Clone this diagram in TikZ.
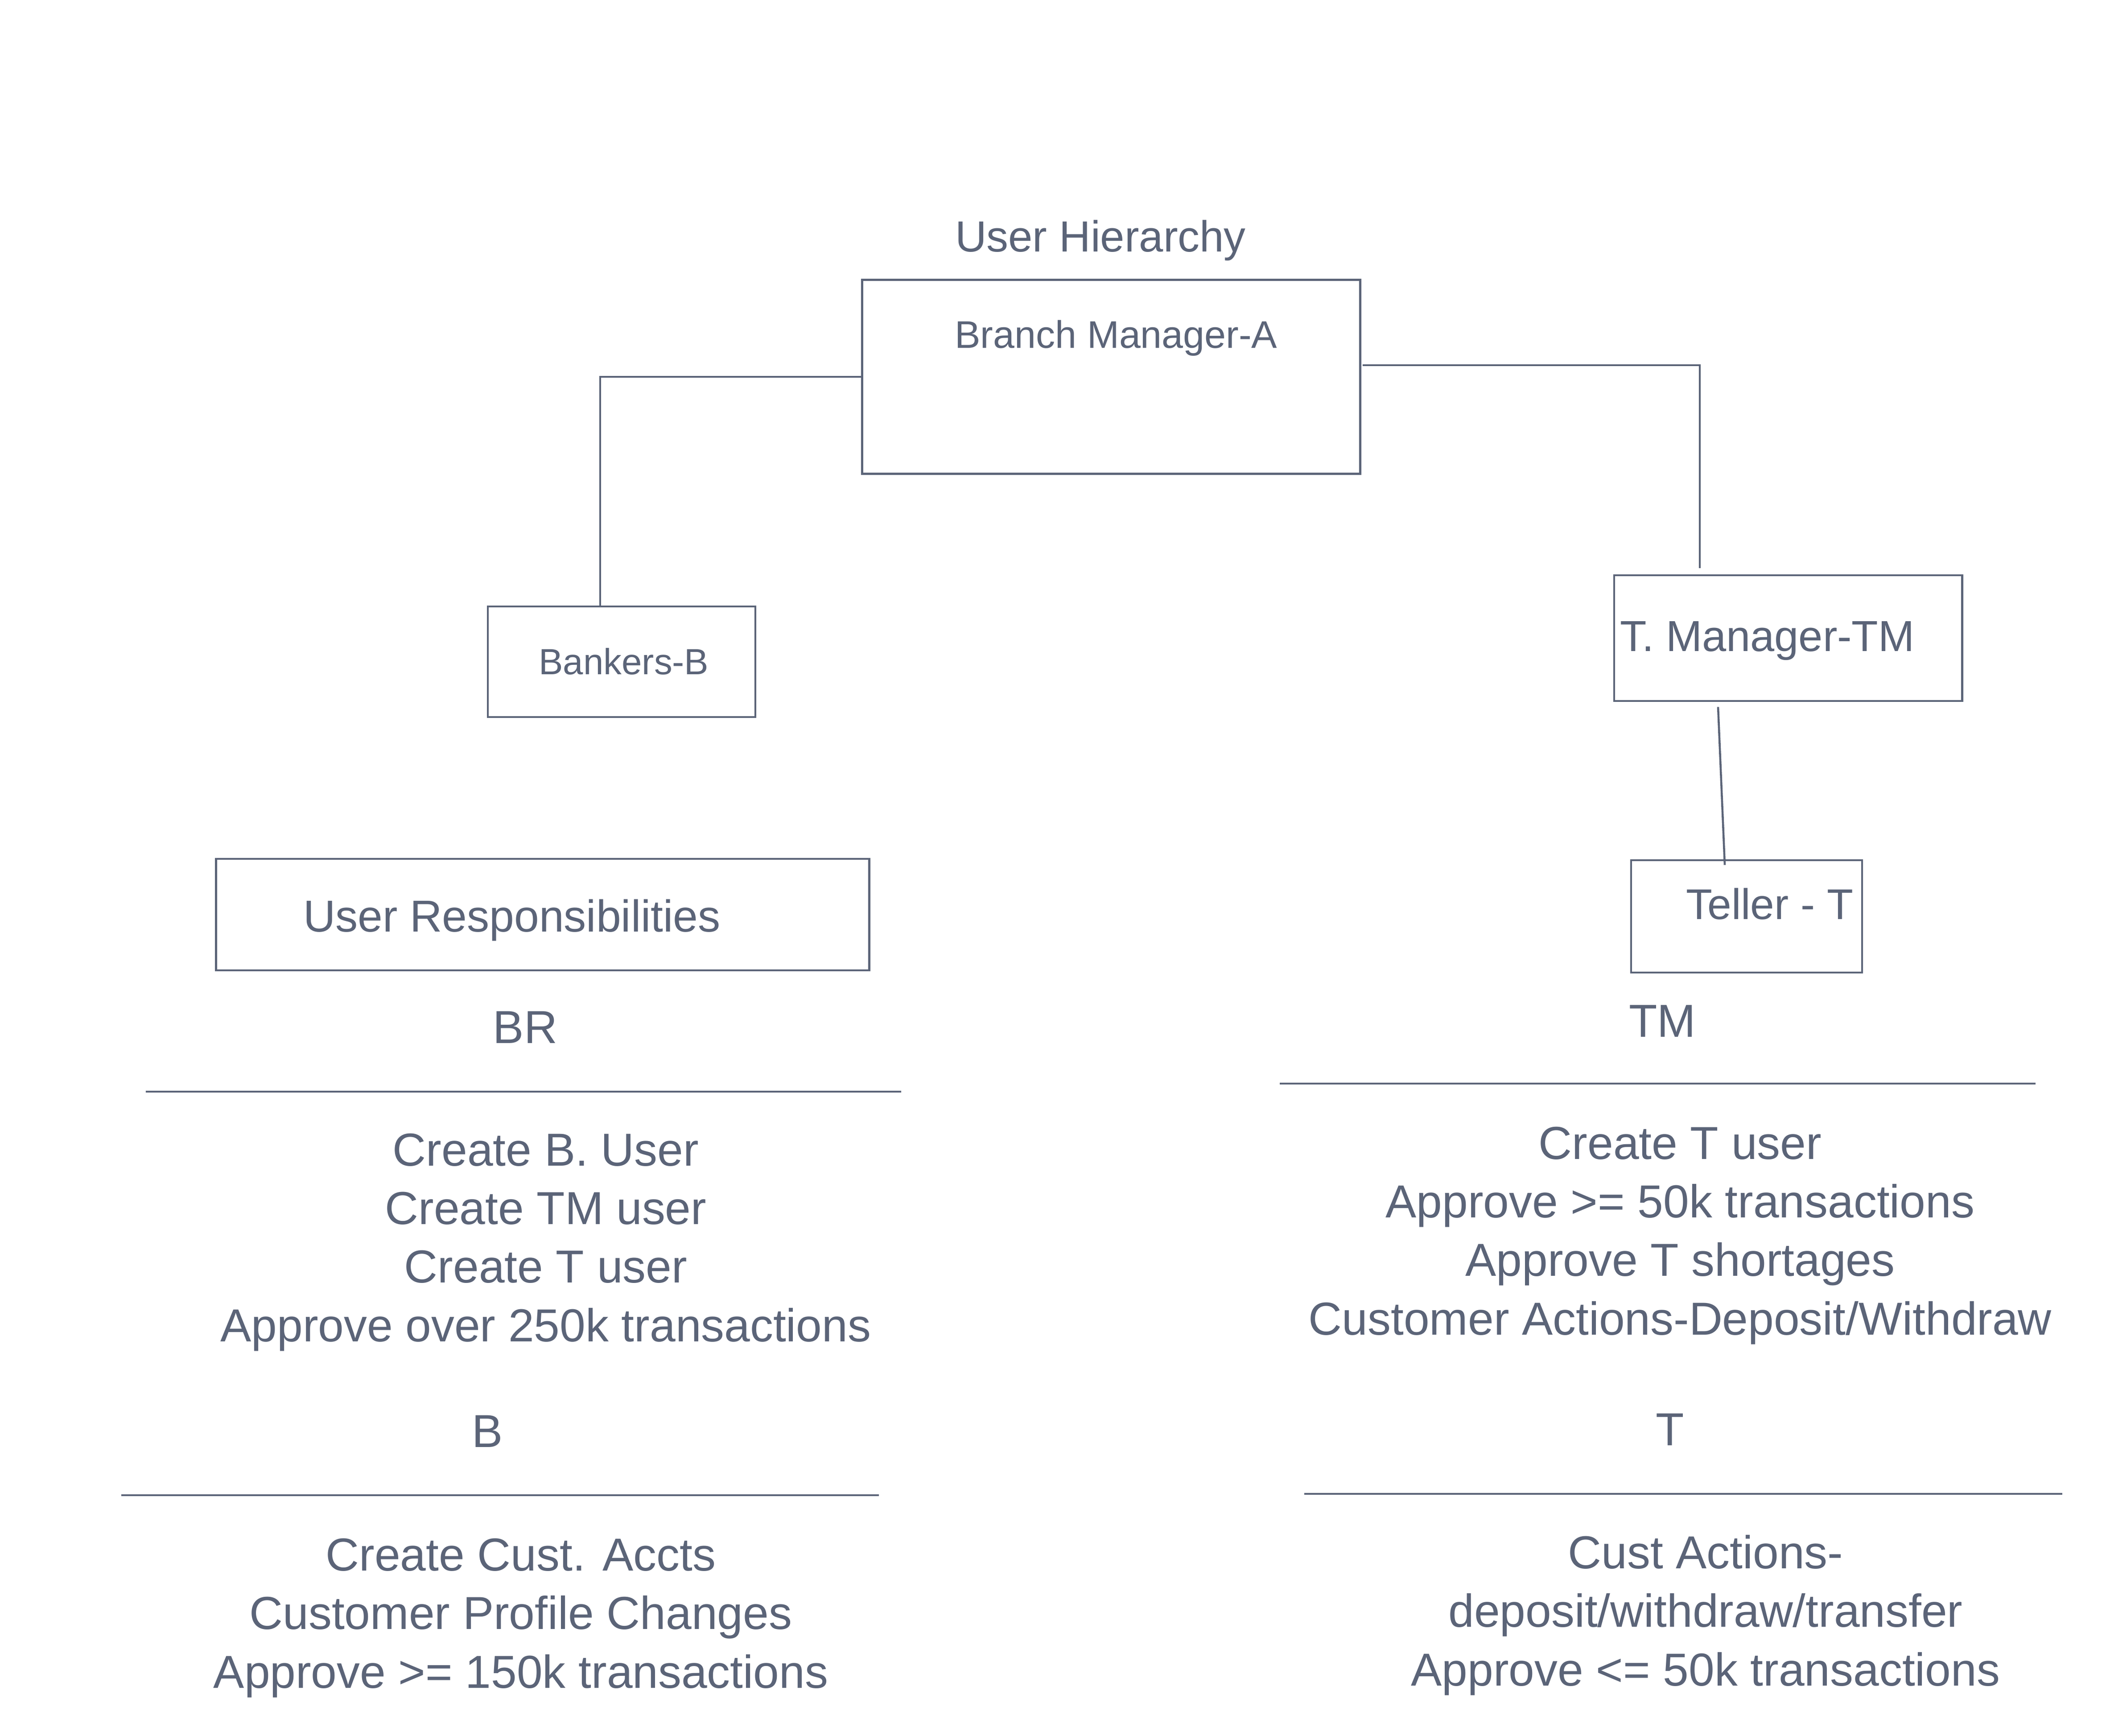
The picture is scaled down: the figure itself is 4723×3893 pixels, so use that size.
\documentclass[tikz,border=0pt]{standalone}
\usepackage{fontspec}
\setmainfont{Liberation Sans}
\usepackage{tikz}
\usetikzlibrary{calc}
\usetikzlibrary{positioning}
\definecolor{slate}{HTML}{5B6478}

\begin{document}
\begin{tikzpicture}[x=0.01cm,y=-0.01cm,line width=1.3pt]
  \tikzstyle{box}=[draw=slate,line width=1.3pt,inner sep=0pt]
  \tikzstyle{txt}=[inner sep=0pt,anchor=base,text=slate,font=\fontsize{29.5}{37.3}\selectfont]
  \tikzstyle{list}=[txt,align=center]
  \tikzstyle{link}=[draw=slate,line width=1.3pt]

  \useasboundingbox (0,0) rectangle (4723,3893);

  % hierarchy
  \node[txt,font=\fontsize{27.8}{33}\selectfont] (UH) at (2468,564) {User Hierarchy};
  \node[box,minimum width=11.16cm,minimum height=4.35cm] (BM) at (2492,845) {};
  \node[txt,font=\fontsize{24.5}{30}\selectfont] (BMt) at (2503,780) {Branch Manager-A};

  \node[box,minimum width=6cm,minimum height=2.48cm] (BK) at (1394,1484) {};
  \node[txt,font=\fontsize{23.2}{28}\selectfont] (BKt) at (1399,1512) {Bankers-B};

  \node[box,minimum width=7.8cm,minimum height=2.82cm] (TM) at (4010,1431) {};
  \node[txt,anchor=base west,font=\fontsize{27.7}{33}\selectfont] (TMt) at (3631,1460) {T. Manager-TM};

  \node[box,minimum width=5.18cm,minimum height=2.52cm] (TL) at (3917,2055) {};
  \node[txt,anchor=base west,font=\fontsize{27.4}{33}\selectfont] (TLt) at (3779,2061) {Teller - T};

  \draw[link] (BM.west) -| ($(BK.north)+(-48,0)$);
  \draw[link] ($(BM.east)+(3,-26)$) -| ($(TM.north)+(-198,-14)$);
  \draw[link] ($(TM.south)+(-157,11)$) -- ($(TL.north)+(-49,13)$);

  % responsibilities (lists sit on the baseline of their last line)
  \node[box,minimum width=14.64cm,minimum height=2.5cm] (UR) at (1217,2051) {};
  \node[txt,font=\fontsize{28.5}{34}\selectfont] (URt) at (1148,2089) {User Responsibilities};

  \node[txt] (BR) at (1178,2339) {BR};
  \coordinate (BRa) at (327,2448);
  \coordinate (BRb) at (2021,2448);
  \draw[link] (BRa) -- (BRb);
  \node[list] (BRl) at (1224,3008) {Create B. User\\Create TM user\\Create T user\\Approve over 250k transactions};

  \node[txt] (B) at (1093,3245) {B};
  \coordinate (Ba) at (272,3353);
  \coordinate (Bb) at (1971,3353);
  \draw[link] (Ba) -- (Bb);
  \node[list] (Bl) at (1168,3785) {Create Cust. Accts\\Customer Profile Changes\\Approve >= 150k transactions};

  \node[txt] (TMr) at (3728,2325) {TM};
  \coordinate (TMa) at (2870,2430);
  \coordinate (TMb) at (4565,2430);
  \draw[link] (TMa) -- (TMb);
  \node[list] (TMl) at (3768,2993) {Create T user\\Approve >= 50k transactions\\Approve T shortages\\Customer Actions-Deposit/Withdraw};

  \node[txt] (T) at (3745,3241) {T};
  \coordinate (Ta) at (2925,3350);
  \coordinate (Tb) at (4625,3350);
  \draw[link] (Ta) -- (Tb);
  \node[list] (Tl) at (3825,3780) {Cust Actions-\\deposit/withdraw/transfer\\Approve <= 50k transactions};
\end{tikzpicture}
\end{document}
